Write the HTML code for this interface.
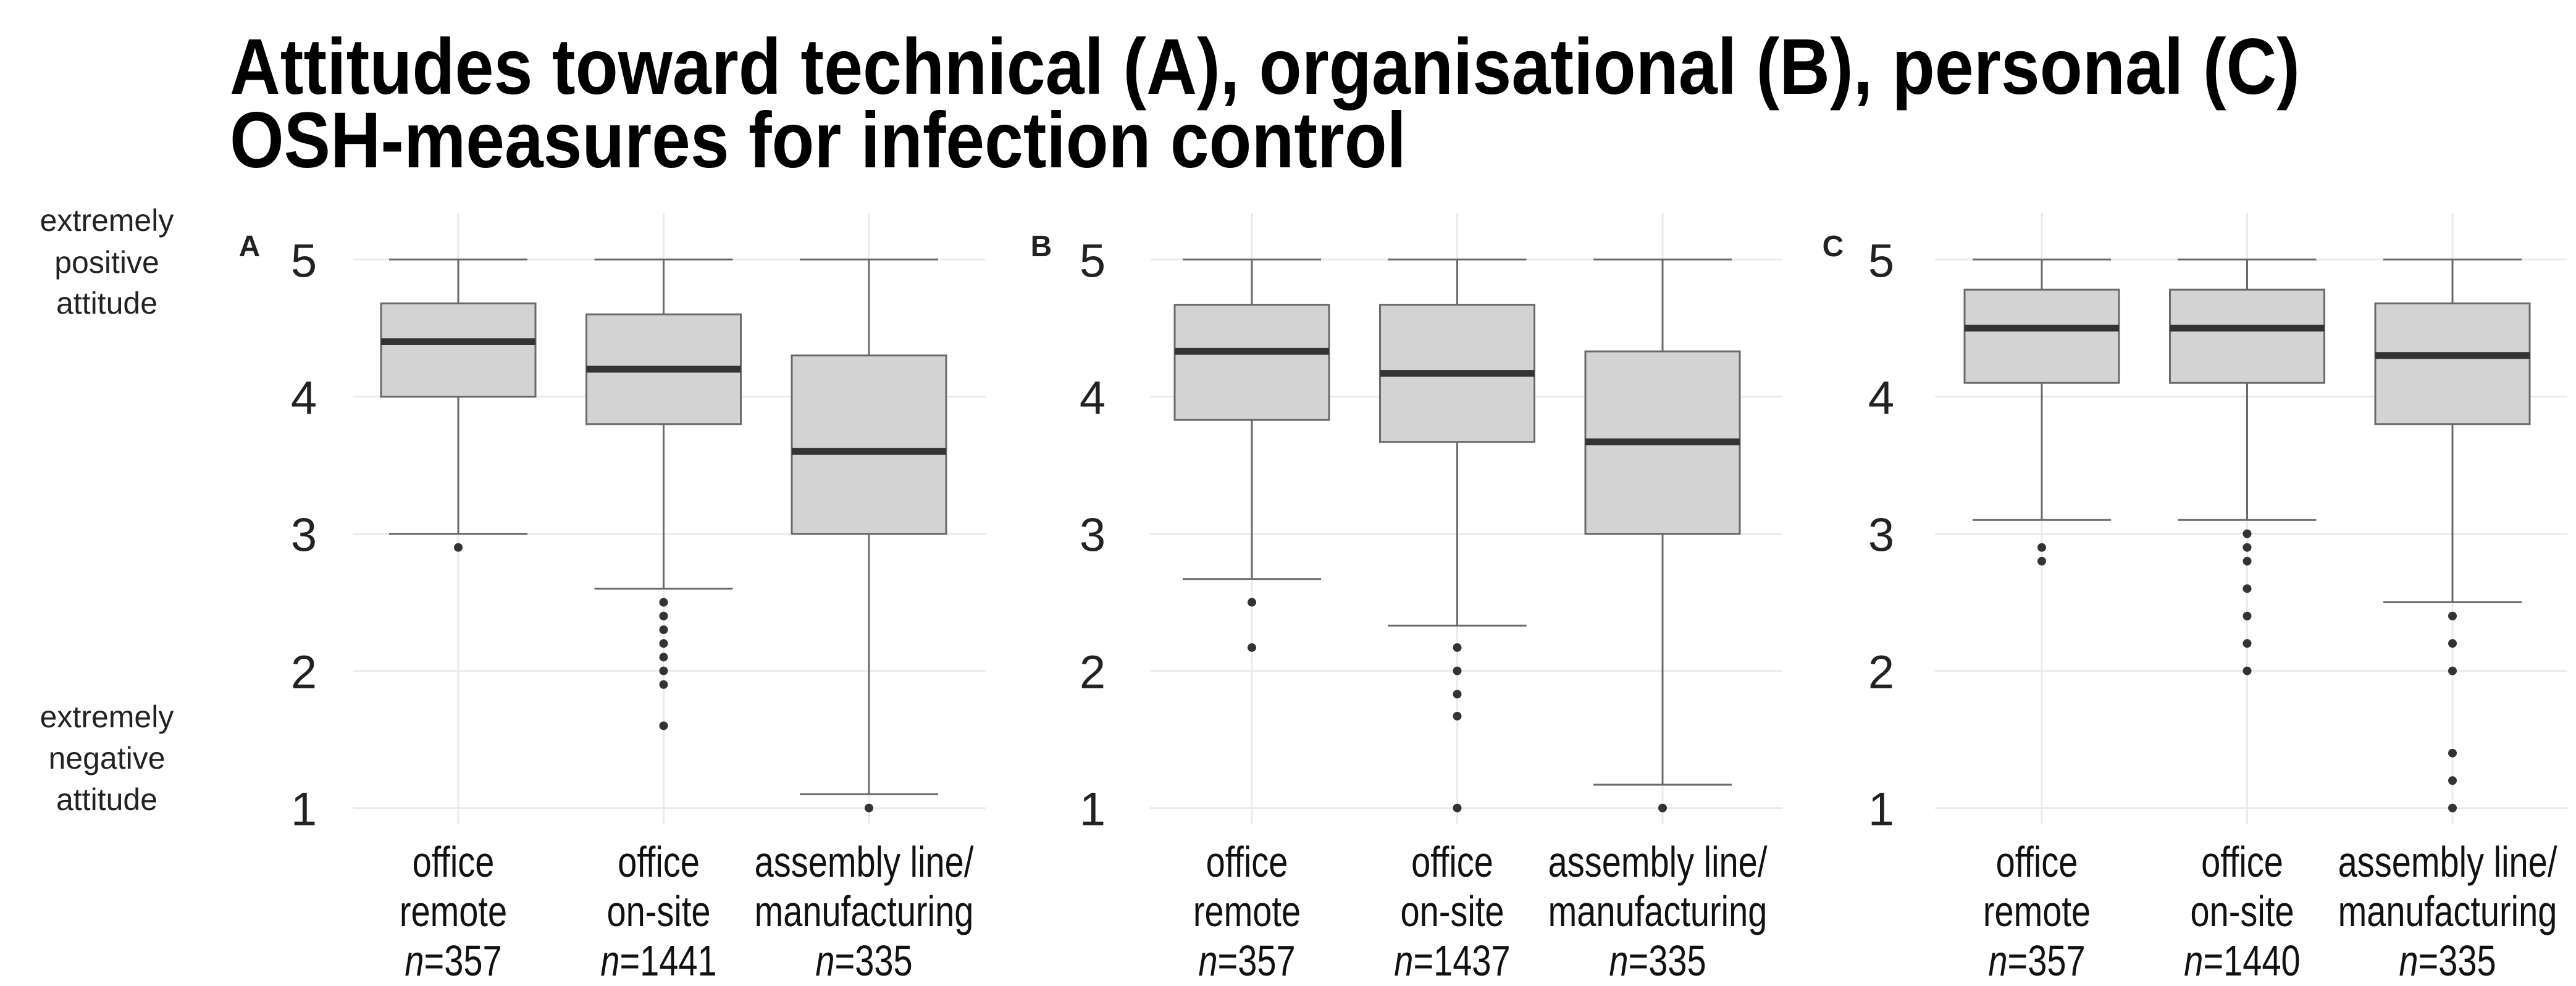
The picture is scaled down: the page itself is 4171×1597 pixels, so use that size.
<!DOCTYPE html>
<html><head><meta charset="utf-8"><style>
body{margin:0;background:#fff}
svg{display:block;font-family:"Liberation Sans",sans-serif}
</style></head><body>
<svg id="chart" width="4171" height="1597" viewBox="0 0 4171 1597" xmlns="http://www.w3.org/2000/svg">
<text x="372" y="152" font-size="128" font-weight="bold" textLength="3352" lengthAdjust="spacingAndGlyphs">Attitudes toward technical (A), organisational (B), personal (C)</text>
<text x="372" y="271" font-size="128" font-weight="bold" textLength="1905" lengthAdjust="spacingAndGlyphs">OSH-measures for infection control</text>
<g font-size="50" fill="#222" text-anchor="middle">
<text x="173" y="374">extremely</text><text x="173" y="442">positive</text><text x="173" y="508">attitude</text></g>
<g font-size="50" fill="#222" text-anchor="middle">
<text x="173" y="1178">extremely</text><text x="173" y="1245">negative</text><text x="173" y="1312">attitude</text></g>
<g id="panels"></g>
</svg>
<script>
const panelLetters = ["A","B","C"];
const categories = ["office|remote","office|on-site","assembly line/|manufacturing"];
const sampleSizes = [["357","1441","335"],["357","1437","335"],["357","1440","335"]];
const yTicks = [1,2,3,4,5];
// [whiskerLow, q1, median, q3, whiskerHigh]
const statsA = [[3,4.0,4.4,4.68,5],[2.6,3.8,4.2,4.6,5],[1.1,3.0,3.6,4.3,5]];
const statsB = [[2.67,3.83,4.33,4.67,5],[2.33,3.67,4.17,4.67,5],[1.17,3.0,3.67,4.33,5]];
const statsC = [[3.1,4.1,4.5,4.78,5],[3.1,4.1,4.5,4.78,5],[2.5,3.8,4.3,4.68,5]];
const outliersA = [[2.9],[2.5,2.4,2.3,2.2,2.1,2.0,1.9,1.6],[1.0]];
const outliersB = [[2.5,2.17],[2.17,2.0,1.83,1.67,1.0],[1.0]];
const outliersC = [[2.9,2.8],[3.0,2.9,2.8,2.6,2.4,2.2,2.0],[2.4,2.2,2.0,1.4,1.2,1.0]];
const allStats=[statsA,statsB,statsC], allOut=[outliersA,outliersB,outliersC];

const NS="http://www.w3.org/2000/svg";
const root=document.getElementById('panels');
function mk(tag,attrs,parent){const e=document.createElementNS(NS,tag);for(const k in attrs)e.setAttribute(k,attrs[k]);parent.appendChild(e);return e;}
const y=v=>1308.7-(v-1)*(1308.7-420.3)/4;
const panelX0=[572,1862,3133], catSpacing=332.5, firstCat=[742,2027,3306];
const tickX=[492,1769,3046], letterX=[404,1686,2968];
panelLetters.forEach((L,p)=>{
  const g=mk('g',{},root);
  
  
  const xc=i=>firstCat[p]+i*catSpacing;
  yTicks.forEach(t=>{
    const gl=mk('line',{x1:panelX0[p],x2:panelX0[p]+1024,y1:y(t),y2:y(t),stroke:'#ebebeb','stroke-width':3},g);
    
    
    const tl=mk('text',{x:tickX[p],y:y(t)+28,'font-size':76,fill:'#222','text-anchor':'middle'},g);
    tl.textContent=t;
    
    
  });
  const lt=mk('text',{x:letterX[p],y:415,'font-size':48,'font-weight':'bold',fill:'#222','text-anchor':'middle'},g);
  lt.textContent=L;
  
  
  categories.forEach((c,i)=>{
    const x=xc(i);
    const vg=mk('line',{x1:x,x2:x,y1:345,y2:1335,stroke:'#ebebeb','stroke-width':3},g);
    
    
    const s=allStats[p][i];
    const bg=mk('g',{},g);
    
    
    mk('line',{x1:x,x2:x,y1:y(s[0]),y2:y(s[4]),stroke:'#6a6a6a','stroke-width':3},bg);
    mk('line',{x1:x-112,x2:x+112,y1:y(s[0]),y2:y(s[0]),stroke:'#6a6a6a','stroke-width':3},bg);
    mk('line',{x1:x-112,x2:x+112,y1:y(s[4]),y2:y(s[4]),stroke:'#6a6a6a','stroke-width':3},bg);
    mk('rect',{x:x-125,width:250,y:y(s[3]),height:y(s[1])-y(s[3]),fill:'#d3d3d3',stroke:'#6a6a6a','stroke-width':3},bg);
    mk('line',{x1:x-125,x2:x+125,y1:y(s[2]),y2:y(s[2]),stroke:'#333','stroke-width':11},bg);
    allOut[p][i].forEach(o=>{
      const pt=mk('circle',{cx:x,cy:y(o),r:7,fill:'#333'},bg);
      
      
    });
    const parts=c.split('|');
    const tg=mk('g',{'font-size':70,fill:'#111','text-anchor':'middle',transform:'translate('+(x-8)+',0) scale(0.8,1)'},g);
    
    
    mk('text',{x:0,y:1420},tg).textContent=parts[0];
    mk('text',{x:0,y:1500},tg).textContent=parts[1];
    const nt=mk('text',{x:0,y:1580},tg);
    const it=mk('tspan',{'font-style':'italic'},nt); it.textContent='n';
    const rt=mk('tspan',{},nt); rt.textContent='='+sampleSizes[p][i];
  });
});
</script>
</body></html>
